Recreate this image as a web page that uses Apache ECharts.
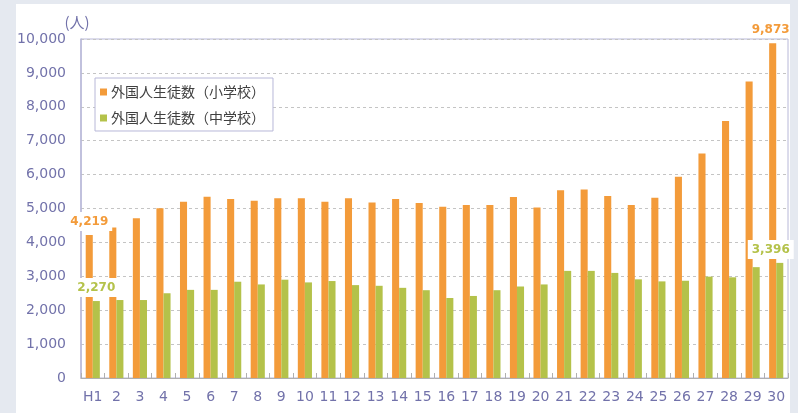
<!DOCTYPE html>
<html>
<head>
<meta charset="utf-8">
<script src="https://cdn.jsdelivr.net/npm/echarts@6/dist/echarts.min.js"></script>
<style>
  html, body { margin: 0; padding: 0; background: #e5e9f0; }
  #chart { width: 798px; height: 413px; }
</style>
</head>
<body>
<div id="chart"></div>
<script>
// School years (Heisei) on the category axis
const categories = ['H1', '2', '3', '4', '5', '6', '7', '8', '9', '10',
  '11', '12', '13', '14', '15', '16', '17', '18', '19', '20',
  '21', '22', '23', '24', '25', '26', '27', '28', '29', '30'];

// Foreign students, elementary school
const elementary = [4219, 4440, 4710, 5010, 5200, 5350, 5280, 5230, 5300, 5300,
  5200, 5300, 5180, 5280, 5160, 5050, 5100, 5100, 5340, 5030,
  5540, 5560, 5370, 5100, 5320, 5940, 6620, 7580, 8750, 9873];

// Foreign students, junior high school
const juniorHigh = [2270, 2300, 2300, 2500, 2600, 2600, 2840, 2760, 2900, 2820,
  2860, 2740, 2720, 2660, 2590, 2360, 2420, 2590, 2700, 2760,
  3160, 3160, 3100, 2910, 2850, 2870, 2990, 2970, 3270, 3396];

const seriesNames = ['外国人生徒数（小学校）', '外国人生徒数（中学校）'];
const yTicks = { min: 0, max: 10000, interval: 1000 };

const ORANGE = '#f39b3a';
const GREEN = '#b4c24a';
const AXIS_TEXT = '#7272aa';
const FRAME = '#b8b8d8';

function valueLabel(color, offset, boxed) {
  return {
    show: true,
    position: 'top',
    distance: 4,
    offset: offset || [0, 0],
    formatter: p => p.value.toLocaleString('en-US'),
    color: color,
    fontFamily: 'DejaVu Sans',
    fontWeight: 'bold',
    fontSize: 12,
    backgroundColor: boxed ? '#ffffff' : 'transparent',
    padding: [4, 4, 3, 4]
  };
}

// Only the first and last years carry value labels
function withEndLabels(values, color, lastOffset, lastBoxed) {
  return values.map((v, i) => {
    if (i === 0) return { value: v, label: valueLabel(color, null, true) };
    if (i === values.length - 1) return { value: v, label: valueLabel(color, lastOffset, lastBoxed) };
    return v;
  });
}

const chart = echarts.init(document.getElementById('chart'), null, { renderer: 'canvas' });

chart.setOption({
  backgroundColor: '#e5e9f0',
  animation: false,
  textStyle: { fontFamily: 'DejaVu Sans' },
  graphic: [{
    type: 'rect',
    z: -10,
    shape: { x: 16, y: 4, width: 774, height: 420 },
    style: { fill: '#ffffff' },
    silent: true
  }],
  grid: {
    left: 81, right: 10, top: 39, bottom: 35,
    show: true,
    borderColor: FRAME,
    borderWidth: 1,
    backgroundColor: 'transparent'
  },
  legend: {
    orient: 'vertical',
    left: 95,
    top: 78,
    data: seriesNames,
    icon: 'rect',
    itemWidth: 7,
    itemHeight: 7,
    itemGap: 12,
    padding: [7, 8, 6, 5],
    backgroundColor: '#ffffff',
    borderColor: FRAME,
    borderWidth: 1,
    textStyle: {
      fontFamily: 'Noto Sans CJK JP',
      fontSize: 14,
      color: '#404040',
      padding: [0, 0, 0, -1]
    }
  },
  xAxis: {
    type: 'category',
    data: categories,
    axisLine: { lineStyle: { color: '#b0b0b0', width: 1 } },
    axisTick: { show: true, inside: true, length: 5, lineStyle: { color: '#b0b0b0' } },
    axisLabel: {
      color: AXIS_TEXT,
      fontFamily: 'DejaVu Sans',
      fontSize: 14,
      margin: 12,
      interval: 0
    }
  },
  yAxis: {
    type: 'value',
    min: yTicks.min,
    max: yTicks.max,
    interval: yTicks.interval,
    name: '(人)',
    nameLocation: 'end',
    nameGap: 9,
    nameTextStyle: {
      color: AXIS_TEXT,
      fontFamily: 'Noto Sans CJK JP',
      fontSize: 15,
      align: 'center',
      padding: [0, 8, 0, 0]
    },
    axisLine: { show: true, lineStyle: { color: FRAME, width: 1.5 } },
    axisTick: { show: false },
    axisLabel: {
      color: AXIS_TEXT,
      fontFamily: 'DejaVu Sans',
      fontSize: 14,
      margin: 15,
      formatter: v => v.toLocaleString('en-US')
    },
    splitLine: {
      show: true,
      lineStyle: { color: '#c4c4c4', type: [3, 3], width: 1 }
    }
  },
  series: [
    {
      name: seriesNames[0],
      type: 'bar',
      data: withEndLabels(elementary, ORANGE, [-2, 0], false),
      itemStyle: { color: ORANGE },
      barGap: 0,
      barCategoryGap: '40%'
    },
    {
      name: seriesNames[1],
      type: 'bar',
      data: withEndLabels(juniorHigh, GREEN, [-9, 0], true),
      itemStyle: { color: GREEN },
      barGap: 0,
      barCategoryGap: '40%'
    }
  ]
});
</script>
</body>
</html>
